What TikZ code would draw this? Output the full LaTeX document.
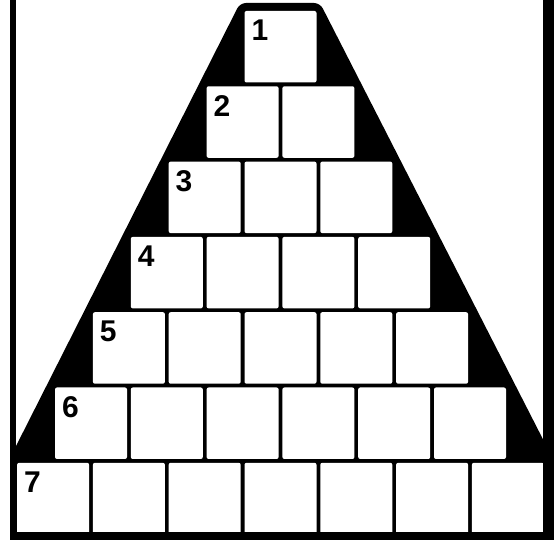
\documentclass[tikz,border=0pt]{standalone}
\usepackage{fontspec}
\setmainfont{Liberation Sans}
\tikzset{
  cell/.style={rectangle, fill=white, draw=none, rounded corners=2pt,
    minimum width=72pt, minimum height=71.5pt, inner sep=0pt, outer sep=0pt},
  num/.style={inner sep=0pt, outer sep=0pt, anchor=north west,
    font=\fontsize{30}{30}\selectfont\bfseries}
}
\begin{document}
\begin{tikzpicture}[x=1pt,y=1pt]
  \fill[white] (0,0) rectangle (554,540);
  \useasboundingbox (0,0) rectangle (554,540);
  % black pyramid, clipped to the frame interior
  \begin{scope}
    \clip (16,0) rectangle (543,540);
    \fill[black, rounded corners=6pt] (-34,-5) -- (240,537) -- (320,537) -- (597,-5) -- cycle;
  \end{scope}
  % rows of cells
  \foreach \k in {1,...,7} {
    \pgfmathsetmacro{\rowtop}{540 - (11 + (\k-1)*75.3)}
    \foreach \j in {1,...,\k} {
      \pgfmathsetmacro{\cx}{280.5 - (\k*75.8-3.8)/2 + (\j-1)*75.8 + 36}
      \node[cell] (b\k-\j) at (\cx, \rowtop-35.75) {};
    }
    \node[num] (n\k) at ([xshift=7pt,yshift=-9pt]b\k-1.north west) {\k};
  }
  % frame
  \fill[black] (9.5,0) rectangle (16,540);
  \fill[black] (543,0) rectangle (554,540);
  \fill[black] (9.5,0) rectangle (554,8);
\end{tikzpicture}
\end{document}
